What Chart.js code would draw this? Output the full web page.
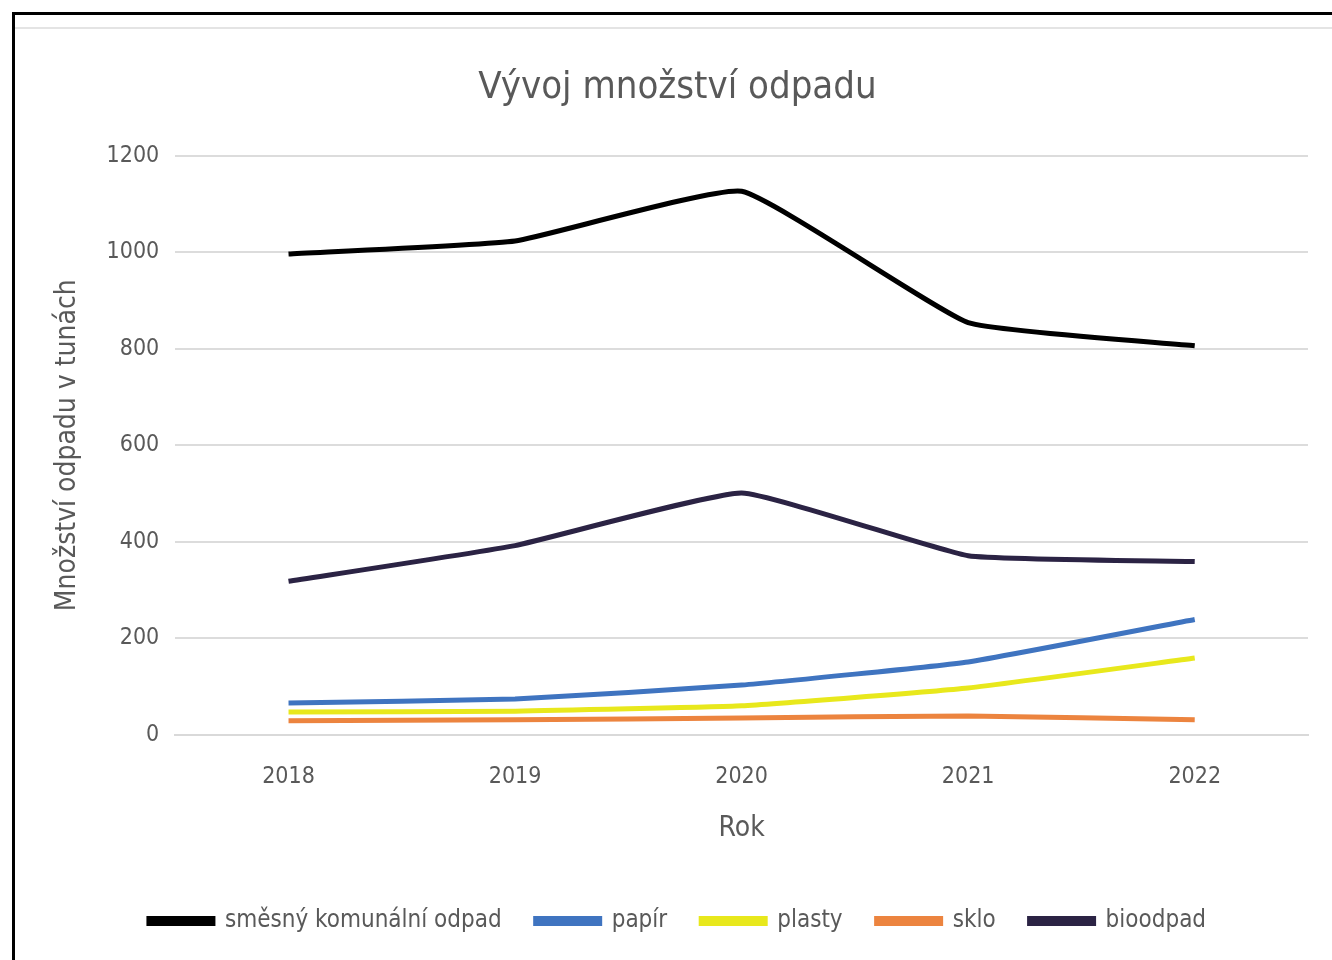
<!DOCTYPE html>
<html>
<head>
<meta charset="utf-8">
<script src="https://cdn.jsdelivr.net/npm/chart.js@4.4.0/dist/chart.umd.min.js"></script>
<style>
	body { margin: 0; background: #fff; }
	#frame {
		position: absolute; left: 12px; top: 12px; width: 1330px; height: 960px;
		border-left: 3px solid #000; border-top: 3px solid #000;
	}
	#inner {
		position: absolute; left: 0; top: 12px; width: 1317px; height: 936px;
		border-top: 2px solid #e4e4e4;
	}
</style>
</head>
<body>
<div id="frame">
	<div id="inner"><canvas id="waste-chart"></canvas></div>
</div>
<script>
const years = ['2018', '2019', '2020', '2021', '2022'];
const smesny = [996, 1023, 1126, 854, 806];
const papir = [66, 74, 103, 151, 239];
const plasty = [47, 49, 60, 97, 159];
const sklo = [29, 31, 35, 39, 31];
const bioodpad = [318, 392, 501, 371, 359];

const font = "'Liberation Sans Narrow', 'DejaVu Sans Condensed', sans-serif";
const grey = '#595959';

function series(label, data, color) {
	return {
		label: label,
		data: data,
		borderColor: color,
		backgroundColor: color,
		borderWidth: 5,
		pointRadius: 0,
		tension: 0.12
	};
}

document.addEventListener("DOMContentLoaded", function () {
	var box = document.querySelector('#waste-chart');
	box.width = 1317;
	box.height = 936;
	new Chart(box, {
		type: 'line',
		data: {
			labels: years,
			datasets: [
				series('směsný komunální odpad', smesny, '#000000'),
				series('papír', papir, '#3f74c0'),
				series('plasty', plasty, '#e8e81c'),
				series('sklo', sklo, '#ec843f'),
				series('bioodpad', bioodpad, '#2b2344')
			]
		},
		options: {
			responsive: false,
			animation: false,
			layout: { padding: { left: 32, right: 24, top: 20, bottom: 22 } },
			plugins: {
				title: {
					display: true,
					text: 'Vývoj množství odpadu',
					color: grey,
					font: { family: font, size: 38, weight: 'normal' },
					padding: { top: 16, bottom: 45 }
				},
				legend: {
					position: 'bottom',
					labels: {
						color: grey,
						font: { family: font, size: 24 },
						boxWidth: 64,
						boxHeight: 5,
						padding: 34
					}
				},
				tooltip: { enabled: false }
			},
			scales: {
				x: {
					offset: true,
					grid: { display: false },
					border: { color: '#d9d9d9', width: 2 },
					ticks: { color: grey, font: { family: font, size: 23 }, padding: 20 },
					title: { display: true, text: 'Rok', color: grey, font: { family: font, size: 28 }, padding: { top: 2, bottom: 29 } }
				},
				y: {
					min: 0,
					max: 1200,
					ticks: {
						stepSize: 200, color: grey, font: { family: font, size: 23 }, padding: 16,
						callback: function (v) { return String(v); }
					},
					grid: { color: '#dcdcdc', lineWidth: 2, drawTicks: false },
					border: { display: false },
					title: { display: true, text: 'Množství odpadu v tunách', color: grey, font: { family: font, size: 28 }, padding: { bottom: 6 } }
				}
			}
		}
	});
});
</script>
</body>
</html>
